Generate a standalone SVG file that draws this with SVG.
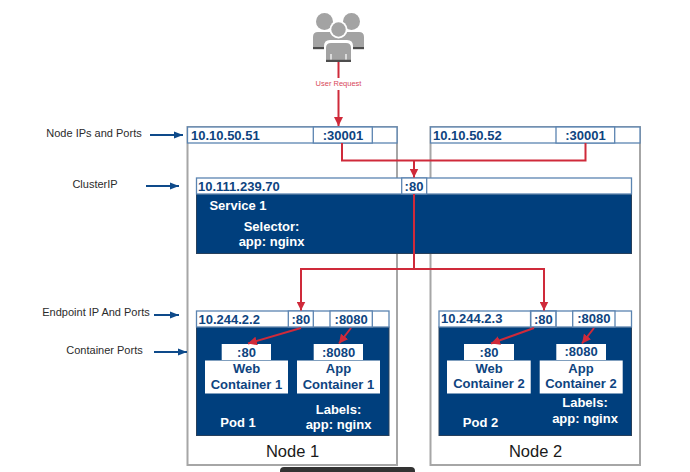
<svg xmlns="http://www.w3.org/2000/svg" width="690" height="472" viewBox="0 0 690 472">
<style>
  text { font-family: "Liberation Sans", Arial, sans-serif; }
  .node { fill: #fff; stroke: #a6a6a6; stroke-width: 2; }
  .cell { fill: #fff; stroke: #5b84b1; stroke-width: 1.3; }
  .panel { fill: #003f7d; stroke: #27405c; stroke-width: 1; }
  .box { fill: #fff; }
  .ip { font-size: 13px; font-weight: bold; fill: #0e4480; }
  .ctr { font-size: 13px; font-weight: bold; fill: #0e4480; text-anchor: middle; }
  .inv { font-size: 13px; font-weight: bold; fill: #fff; text-anchor: middle; }
  .side { font-size: 11px; fill: #2b2b2b; text-anchor: middle; }
  .title { font-size: 16.5px; fill: #1a1a1a; text-anchor: middle; }
  .red { fill: none; stroke: #cf2a3a; stroke-width: 2; }
  .blue { fill: none; stroke: #0e4a8a; stroke-width: 2; marker-end: url(#blueHead); }
  .person { fill: #a3a3a3; }
  .cuff { fill: #4d4d4d; }
</style>
<defs>
  <marker id="redHead" markerUnits="userSpaceOnUse" markerWidth="10" markerHeight="9" refX="9" refY="4.5" orient="auto">
    <path d="M0 0L9 4.5L0 9Z" fill="#cf2a3a"/>
  </marker>
  <marker id="blueHead" markerUnits="userSpaceOnUse" markerWidth="10" markerHeight="8" refX="9" refY="4" orient="auto">
    <path d="M0 0.5L9 4L0 7.5Z" fill="#0e4a8a"/>
  </marker>
</defs>

<g id="footer-bar"><rect x="280" y="467" width="135" height="12" rx="4" fill="#333"/></g>

<g id="user">
  <!-- two people behind -->
  <circle class="person" cx="324.500" cy="21.500" r="8.500"/>
  <circle class="person" cx="351.500" cy="21.500" r="8.500"/>
  <path class="person" d="M313 49V37q0-5 5-5h13q5 0 5 2h5q0-2 5-2h13q5 0 5 5v12Z"/>
  <rect class="cuff" x="313" y="47" width="51" height="2.200"/>
  <!-- person in front, with a white outline -->
  <path d="M324 64V46q0-6 6-6h17q6 0 6 6v18Z" fill="#fff"/>
  <circle cx="338.500" cy="29.500" r="9" fill="#fff"/>
  <circle class="person" cx="338.500" cy="29.500" r="7.200"/>
  <path class="person" d="M326 62V48q0-5 5-5h15q5 0 5 5v14Z"/>
  <rect class="cuff" x="326" y="59.800" width="25" height="2.200"/>
  <path d="M331 54v5.500M346 54v5.500" stroke="#fff" stroke-width="1.200"/>
  <text x="338.500" y="86" font-size="7.500" fill="#d8475a" text-anchor="middle">User Request</text>
</g>

<g id="node-1">
  <rect class="node" x="187.500" y="127" width="209.500" height="338"/>
  <rect class="cell" x="187.500" y="127" width="209.500" height="16"/>
  <rect class="cell" x="313.300" y="127" width="59" height="16"/>
  <text class="ip" x="191" y="140">10.10.50.51</text>
  <text class="ctr" x="343" y="140">:30001</text>
  <text class="title" x="292.500" y="456.500">Node 1</text>
</g>

<g id="node-2">
  <rect class="node" x="430.500" y="127" width="209.500" height="338"/>
  <rect class="cell" x="430.500" y="127" width="209.500" height="16"/>
  <rect class="cell" x="556" y="127" width="58.700" height="16"/>
  <text class="ip" x="433" y="140">10.10.50.52</text>
  <text class="ctr" x="585.500" y="140">:30001</text>
  <text class="title" x="535.500" y="456.500">Node 2</text>
</g>

<g id="service-1">
  <rect class="panel" x="196.500" y="194" width="435" height="59.500"/>
  <rect class="cell" x="196.500" y="178" width="435" height="16"/>
  <rect class="cell" x="401.700" y="178" width="25" height="16"/>
  <text class="ip" x="198" y="190.500">10.111.239.70</text>
  <text class="ctr" x="414" y="190.500">:80</text>
  <text class="inv" x="238" y="210">Service 1</text>
  <text class="inv" x="271.500" y="230.500">Selector:</text>
  <text class="inv" x="271.500" y="246">app: nginx</text>
</g>

<g id="pod-1">
  <rect class="panel" x="196.500" y="327" width="192.500" height="108.500"/>
  <rect class="cell" x="196.500" y="311" width="192.500" height="16"/>
  <rect class="cell" x="288.300" y="311" width="25" height="16"/>
  <rect class="cell" x="330" y="311" width="42.300" height="16"/>
  <text class="ip" x="198.500" y="323.500">10.244.2.2</text>
  <text class="ctr" x="300.800" y="323.500">:80</text>
  <text class="ctr" x="351.200" y="323.500">:8080</text>
  <rect class="box" x="221.700" y="344" width="49.300" height="16"/>
  <rect class="box" x="205" y="360.500" width="83" height="33"/>
  <text class="ctr" x="246.500" y="356.500">:80</text>
  <text class="ctr" x="246.500" y="373">Web</text>
  <text class="ctr" x="246.500" y="388.500">Container 1</text>
  <rect class="box" x="313.700" y="344" width="49.300" height="16"/>
  <rect class="box" x="297" y="360.500" width="83" height="33"/>
  <text class="ctr" x="338.500" y="356.500">:8080</text>
  <text class="ctr" x="338.500" y="373">App</text>
  <text class="ctr" x="338.500" y="388.500">Container 1</text>
  <text class="inv" x="238" y="426.500">Pod 1</text>
  <text class="inv" x="338.500" y="413.500">Labels:</text>
  <text class="inv" x="338.500" y="429">app: nginx</text>
</g>

<g id="pod-2">
  <rect class="panel" x="439" y="327" width="192.500" height="108.500"/>
  <rect class="cell" x="439" y="311" width="192.500" height="16"/>
  <rect class="cell" x="530.700" y="311" width="25.300" height="16" style="stroke-width:1.6"/>
  <rect class="cell" x="572.700" y="311" width="42.300" height="16"/>
  <text class="ip" x="441" y="323">10.244.2.3</text>
  <text class="ctr" x="543.300" y="323.500">:80</text>
  <text class="ctr" x="593.800" y="323">:8080</text>
  <rect class="box" x="464" y="344" width="50" height="16"/>
  <rect class="box" x="447" y="360.500" width="83.700" height="33"/>
  <text class="ctr" x="489" y="356.500">:80</text>
  <text class="ctr" x="489" y="372.500">Web</text>
  <text class="ctr" x="489" y="388">Container 2</text>
  <rect class="box" x="556.300" y="344" width="49.700" height="16"/>
  <rect class="box" x="539.700" y="360.500" width="83" height="33"/>
  <text class="ctr" x="581" y="356">:8080</text>
  <text class="ctr" x="581" y="372.500">App</text>
  <text class="ctr" x="581" y="388">Container 2</text>
  <text class="inv" x="480.500" y="426.500">Pod 2</text>
  <text class="inv" x="585" y="407">Labels:</text>
  <text class="inv" x="585" y="422.500">app: nginx</text>
</g>

<g id="side-labels">
  <text class="side" x="94" y="137">Node IPs and Ports</text>
  <text class="side" x="95" y="187.500">ClusterIP</text>
  <text class="side" x="96" y="316">Endpoint IP And Ports</text>
  <text class="side" x="104.500" y="354">Container Ports</text>
</g>

<g id="connectors">
  <!-- the request line stops either side of its label -->
  <path class="red" d="M338.500 62V78"/>
  <path class="red" d="M338.500 90V126" marker-end="url(#redHead)"/>
  <path class="red" d="M342 143V160.500H585.500V143"/>
  <path class="red" d="M414 160.500V177.500" marker-end="url(#redHead)"/>
  <path class="red" d="M414 194V269"/>
  <path class="red" d="M414 269H301V310.500" marker-end="url(#redHead)"/>
  <path class="red" d="M414 269H544V310.500" marker-end="url(#redHead)"/>
  <path class="red" d="M301 328L248 343.500" marker-end="url(#redHead)"/>
  <path class="red" d="M351 328L339 343.500" marker-end="url(#redHead)"/>
  <path class="red" d="M534 328L491 343.500" marker-end="url(#redHead)"/>
  <path class="red" d="M594 328L582 343.500" marker-end="url(#redHead)"/>
  <path class="blue" d="M150 135H183"/>
  <path class="blue" d="M146 186H179"/>
  <path class="blue" d="M154 315H179"/>
  <path class="blue" d="M154 352H187"/>
</g>
</svg>
